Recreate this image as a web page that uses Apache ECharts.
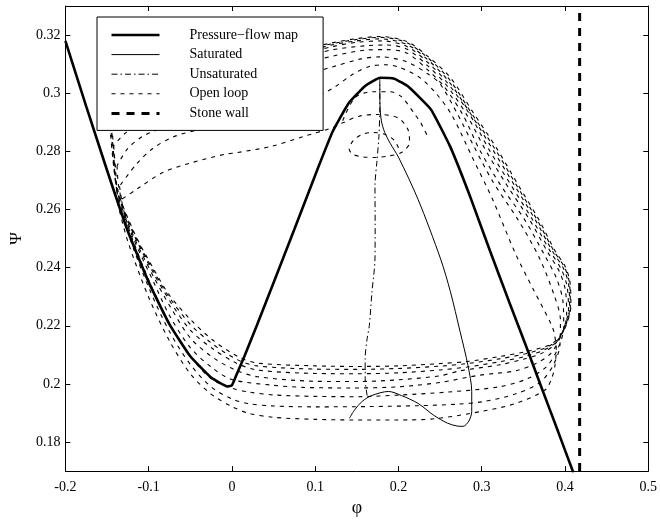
<!DOCTYPE html>
<html><head><meta charset="utf-8">
<script src="https://cdn.jsdelivr.net/npm/echarts@6/dist/echarts.min.js"></script>
<style>html,body{margin:0;padding:0;background:#fff}#c{width:660px;height:522px}</style>
</head><body><div id="c"></div>
<script>
// ---- tick labels ----
const xTicks = [-0.2, -0.1, 0, 0.1, 0.2, 0.3, 0.4, 0.5];
const yTicks = [0.18, 0.2, 0.22, 0.24, 0.26, 0.28, 0.3, 0.32];
const legendNames = ['Pressure\u2212flow map', 'Saturated', 'Unsaturated', 'Open loop', 'Stone wall'];

// ---- series data ----
const pressureFlowMap = [[-0.2,0.318],[-0.175,0.2955],[-0.15,0.2735],[-0.125,0.2525],[-0.1,0.235],[-0.075,0.2205],[-0.05,0.2095],[-0.025,0.2022],[-0.005,0.1991],[0.0,0.1995],[0.006,0.2035],[0.015,0.2095],[0.03,0.2202],[0.05,0.2348],[0.075,0.2532],[0.1,0.2718],[0.121,0.2868],[0.14,0.2965],[0.16,0.3025],[0.178,0.3053],[0.195,0.305],[0.212,0.3022],[0.239,0.2944],[0.262,0.2817],[0.286,0.2645],[0.31,0.2457],[0.333,0.2282],[0.353,0.2132],[0.372,0.1986],[0.39,0.1849],[0.41,0.1695]];

const saturated = [[0.1412,0.1882],[0.147,0.1909],[0.1565,0.194],[0.168,0.196],[0.188,0.1974],[0.2035,0.196],[0.2235,0.1933],[0.2424,0.1892],[0.2588,0.1865],[0.2705,0.1855],[0.2776,0.1854],[0.2845,0.1872],[0.288,0.1905],[0.288,0.1974],[0.2835,0.2063],[0.274,0.218],[0.2624,0.2317],[0.2506,0.243],[0.2235,0.2635],[0.2,0.278],[0.19,0.2828],[0.1835,0.2865],[0.1795,0.2905],[0.1778,0.296],[0.1776,0.305]];

const unsaturated = [[0.1624,0.196],[0.16,0.2019],[0.16,0.2087],[0.1624,0.2156],[0.165,0.22],[0.1682,0.2317],[0.1718,0.243],[0.172,0.255],[0.1718,0.268],[0.174,0.2762],[0.1765,0.285],[0.1776,0.295],[0.1776,0.303]];

const stoneWall = [[0.4176,0.17],[0.4176,0.33]];

const openLoopSpiral = [[0.2,0.2812],[0.195,0.2838],[0.184,0.2858],[0.17,0.2865],[0.156,0.2858],[0.146,0.2838],[0.1408,0.2808],[0.145,0.279],[0.157,0.2781],[0.172,0.2779],[0.188,0.2784],[0.2035,0.2796],[0.2133,0.283],[0.2114,0.2875],[0.1996,0.2915],[0.174,0.2927],[0.1526,0.2921],[0.133,0.2898],[0.1212,0.2882],[0.0859,0.2851],[0.047,0.2817],[0.007,0.2796],[-0.0082,0.279],[-0.0471,0.2762],[-0.0824,0.2728],[-0.1141,0.267],[-0.1376,0.2625]];

const openLoopInner = [[0.133,0.2905],[0.148,0.2985],[0.168,0.3005],[0.19,0.3005],[0.2035,0.2988],[0.219,0.293],[0.227,0.2897],[0.236,0.2845]];

const openLoop1 = [[-0.1376,0.2625],[-0.125,0.249],[-0.1,0.2298],[-0.075,0.2148],[-0.05,0.2035],[-0.025,0.1965],[0.0,0.1922],[0.02,0.1899],[0.05,0.1885],[0.1,0.1878],[0.145,0.1876],[0.2,0.1876],[0.243,0.188],[0.301,0.1906],[0.341,0.1933],[0.376,0.1979],[0.384,0.2019],[0.388,0.2064],[0.3895,0.212],[0.387,0.2175],[0.3835,0.2205],[0.362,0.2325],[0.341,0.2445],[0.313,0.2635],[0.2894,0.2775],[0.264,0.2925],[0.245,0.3],[0.225,0.3055],[0.2,0.309],[0.184,0.3098],[0.165,0.3092],[0.145,0.3065],[0.12,0.3015],[0.09,0.2975],[0.05,0.2935],[0.0,0.2905],[-0.04,0.2875],[-0.07,0.285],[-0.095,0.281],[-0.115,0.2755],[-0.135,0.268]];

const openLoop2 = [[-0.135,0.268],[-0.125,0.2525],[-0.1,0.2332],[-0.075,0.218],[-0.05,0.2067],[-0.025,0.199],[0.0,0.1948],[0.02,0.1932],[0.05,0.1924],[0.1,0.1921],[0.164,0.1922],[0.2235,0.1925],[0.27,0.193],[0.3016,0.1939],[0.34,0.1965],[0.37,0.2005],[0.386,0.2065],[0.394,0.2135],[0.3945,0.222],[0.387,0.2305],[0.369,0.2435],[0.3435,0.2565],[0.3135,0.2695],[0.291,0.2815],[0.271,0.2928],[0.25,0.3032],[0.236,0.3065],[0.21,0.3108],[0.178,0.3125],[0.155,0.3118],[0.12,0.309],[0.08,0.3055],[0.04,0.3015],[0.0,0.2975],[-0.04,0.293],[-0.07,0.2895],[-0.105,0.2855],[-0.125,0.281],[-0.138,0.275]];

const openLoop3 = [[-0.138,0.275],[-0.136,0.268],[-0.125,0.2545],[-0.1,0.2358],[-0.075,0.2208],[-0.05,0.2095],[-0.025,0.2018],[0.0,0.1985],[0.02,0.1972],[0.05,0.1962],[0.1,0.1957],[0.15,0.1956],[0.2035,0.1962],[0.26,0.1972],[0.3212,0.199],[0.355,0.2018],[0.378,0.206],[0.392,0.2125],[0.3985,0.2195],[0.3975,0.2285],[0.3895,0.2365],[0.3745,0.2448],[0.3515,0.2565],[0.3235,0.268],[0.2975,0.2805],[0.2775,0.2925],[0.255,0.3022],[0.236,0.3078],[0.21,0.3138],[0.185,0.315],[0.16,0.3148],[0.12,0.3127],[0.08,0.3098],[0.04,0.3062],[0.0,0.3022],[-0.04,0.2982],[-0.08,0.2942],[-0.11,0.29],[-0.13,0.2858],[-0.142,0.282]];

const openLoop4 = [[-0.142,0.282],[-0.139,0.271],[-0.1365,0.2635],[-0.1176,0.2495],[-0.094,0.235],[-0.075,0.2235],[-0.05,0.2125],[-0.0235,0.2055],[0.0,0.2015],[0.0467,0.1996],[0.0859,0.1988],[0.1447,0.1986],[0.2,0.199],[0.25,0.2005],[0.2976,0.203],[0.3408,0.2045],[0.365,0.207],[0.383,0.2105],[0.3955,0.2168],[0.402,0.2235],[0.4005,0.2322],[0.3935,0.2385],[0.3795,0.2452],[0.357,0.2567],[0.331,0.268],[0.3045,0.2805],[0.2815,0.2928],[0.257,0.303],[0.236,0.3092],[0.21,0.3152],[0.185,0.3166],[0.16,0.3163],[0.12,0.3149],[0.08,0.3118],[0.04,0.308],[0.0,0.304],[-0.04,0.2998],[-0.08,0.2958],[-0.11,0.2925],[-0.13,0.29],[-0.144,0.2885]];

const openLoop5 = [[-0.144,0.2885],[-0.141,0.276],[-0.1375,0.2655],[-0.1176,0.2505],[-0.094,0.2368],[-0.075,0.227],[-0.05,0.2158],[-0.0235,0.2092],[0.004,0.2048],[0.03,0.2025],[0.1,0.2009],[0.15,0.2008],[0.2,0.2014],[0.25,0.2028],[0.2741,0.2045],[0.32,0.2065],[0.35,0.2085],[0.372,0.2105],[0.388,0.2137],[0.3978,0.2187],[0.4042,0.2255],[0.4025,0.2335],[0.396,0.2392],[0.3825,0.2455],[0.3605,0.2567],[0.336,0.268],[0.309,0.2805],[0.285,0.293],[0.259,0.3035],[0.236,0.3104],[0.21,0.3161],[0.18,0.318],[0.15,0.3175],[0.12,0.316],[0.08,0.3128],[0.04,0.309],[0.0,0.305],[-0.04,0.301],[-0.08,0.2975],[-0.11,0.2948],[-0.13,0.2932],[-0.146,0.2925]];

const openLoop6 = [[-0.146,0.2925],[-0.142,0.279],[-0.1378,0.2662],[-0.1176,0.2512],[-0.094,0.238],[-0.075,0.2287],[-0.05,0.2185],[-0.0235,0.2122],[0.005,0.2072],[0.03,0.2048],[0.1,0.2036],[0.15,0.2035],[0.2,0.2038],[0.25,0.2048],[0.2824,0.2058],[0.3212,0.2076],[0.353,0.2095],[0.376,0.2118],[0.3905,0.2146],[0.3995,0.2193],[0.4055,0.2262],[0.4043,0.2343],[0.398,0.2398],[0.3848,0.2457],[0.3638,0.2567],[0.34,0.268],[0.3128,0.2808],[0.2865,0.293],[0.26,0.3042],[0.236,0.3113],[0.21,0.3168],[0.178,0.3187],[0.15,0.318],[0.12,0.3166],[0.08,0.3136],[0.04,0.31],[0.0,0.306],[-0.04,0.3022],[-0.08,0.2988],[-0.11,0.2962],[-0.13,0.2945],[-0.147,0.2955]];

const openLoop7 = [[-0.147,0.2955],[-0.1435,0.2805],[-0.1378,0.2668],[-0.1176,0.2517],[-0.094,0.2388],[-0.075,0.2297],[-0.05,0.2205],[-0.0235,0.2138],[0.006,0.2084],[0.03,0.2062],[0.1,0.2051],[0.15,0.205],[0.2,0.2053],[0.25,0.2061],[0.2824,0.207],[0.3212,0.2086],[0.353,0.2104],[0.378,0.2126],[0.3915,0.2152],[0.4005,0.2198],[0.4064,0.2266],[0.4053,0.2348],[0.3992,0.2402],[0.3865,0.2458],[0.366,0.2567],[0.3425,0.268],[0.3155,0.281],[0.288,0.293],[0.261,0.3048],[0.236,0.312],[0.21,0.3174],[0.178,0.3192],[0.15,0.3185],[0.12,0.317],[0.08,0.3142],[0.04,0.3108],[0.0,0.307],[-0.04,0.3035],[-0.08,0.3],[-0.11,0.2975],[-0.13,0.296],[-0.148,0.298]];

const openLoop8 = [[-0.148,0.298],[-0.146,0.2865],[-0.1376,0.2673],[-0.1176,0.2522],[-0.094,0.2395],[-0.075,0.2305],[-0.05,0.2222],[-0.0235,0.2152],[0.0071,0.2094],[0.03,0.2072],[0.1,0.2062],[0.15,0.206],[0.2,0.2062],[0.25,0.207],[0.2824,0.2077],[0.3212,0.2094],[0.353,0.2111],[0.38,0.2132],[0.3918,0.2156],[0.4012,0.22],[0.4071,0.2269],[0.406,0.235],[0.4,0.2405],[0.388,0.2458],[0.3682,0.2567],[0.3447,0.268],[0.3176,0.2812],[0.2894,0.2935],[0.262,0.3055],[0.236,0.3125],[0.21,0.3178],[0.178,0.3195],[0.15,0.3188],[0.12,0.3173],[0.08,0.3148],[0.04,0.3118],[0.0,0.3082],[-0.04,0.3048],[-0.08,0.3012],[-0.11,0.2985],[-0.13,0.2975],[-0.149,0.3]];

const openLoops = [openLoopSpiral, openLoopInner, openLoop1, openLoop2, openLoop3, openLoop4, openLoop5, openLoop6, openLoop7, openLoop8];

// ---- chart ----
const FONT = 'Liberation Serif';
const chart = echarts.init(document.getElementById('c'), null, {renderer: 'canvas'});

const styles = {
  pressure: {width: 2.6, type: 'solid'},
  saturated: {width: 1, type: 'solid'},
  unsaturated: {width: 1, type: [6, 3, 1.5, 3]},
  openLoop: {width: 1.1, type: [4, 5]},
  stoneWall: {width: 3, type: [8, 7]}
};

function lineSeries(name, data, lineStyle, smooth) {
  return {
    name: name, type: 'line', data: data, xAxisIndex: 0, yAxisIndex: 0,
    symbol: 'none', showSymbol: false, smooth: smooth, animation: false,
    lineStyle: Object.assign({color: '#000'}, lineStyle),
    itemStyle: {color: '#000'}, emphasis: {disabled: true}, silent: true
  };
}

const series = [];
openLoops.forEach(d => series.push(lineSeries(legendNames[3], d, styles.openLoop, 0.3)));
series.push(lineSeries(legendNames[2], unsaturated, styles.unsaturated, 0.3));
series.push(lineSeries(legendNames[1], saturated, styles.saturated, 0.3));
series.push(lineSeries(legendNames[0], pressureFlowMap, styles.pressure, 0.12));
series.push(lineSeries(legendNames[4], stoneWall, styles.stoneWall, false));

const legendStyles = [styles.pressure, styles.saturated, styles.unsaturated, styles.openLoop, styles.stoneWall];

const axisCommon = {
  type: 'value',
  axisLine: {show: true, onZero: false, lineStyle: {color: '#000', width: 1}},
  splitLine: {show: false}
};

const option = {
  animation: false,
  backgroundColor: '#fff',
  grid: {left: 57, right: 8, top: 6, bottom: 49},
  xAxis: [
    Object.assign({}, axisCommon, {
      min: -0.2, max: 0.5, position: 'bottom',
      name: '\u03C6', nameLocation: 'middle', nameGap: 24,
      nameTextStyle: {fontFamily: FONT, fontSize: 18, color: '#000'},
      axisTick: {show: true, inside: true, length: 5, customValues: xTicks, lineStyle: {color: '#000'}},
      axisLabel: {show: true, customValues: xTicks, fontFamily: FONT, fontSize: 14, color: '#000', margin: 9}
    }),
    Object.assign({}, axisCommon, {
      min: -0.2, max: 0.5, position: 'top',
      axisTick: {show: true, inside: true, length: 5, customValues: xTicks, lineStyle: {color: '#000'}},
      axisLabel: {show: false}
    })
  ],
  yAxis: [
    Object.assign({}, axisCommon, {
      min: 0.17, max: 0.33, position: 'left',
      name: '\u03A8', nameLocation: 'middle', nameGap: 36, nameRotate: 90,
      nameTextStyle: {fontFamily: FONT, fontSize: 17, color: '#000'},
      axisTick: {show: true, inside: true, length: 5, customValues: yTicks, lineStyle: {color: '#000'}},
      axisLabel: {show: true, customValues: yTicks, fontFamily: FONT, fontSize: 14, color: '#000', margin: 5}
    }),
    Object.assign({}, axisCommon, {
      min: 0.17, max: 0.33, position: 'right',
      axisTick: {show: true, inside: true, length: 5, customValues: yTicks, lineStyle: {color: '#000'}},
      axisLabel: {show: false}
    })
  ],
  legend: {
    orient: 'vertical', left: 97, top: 17,
    data: legendNames.map((n, i) => ({
      name: n,
      lineStyle: {color: '#000', width: legendStyles[i].width, type: legendStyles[i].type}
    })),
    itemWidth: 48, itemHeight: 14, itemGap: 5.6,
    padding: [11, 25, 10, 13],
    backgroundColor: '#fff', borderColor: '#000', borderWidth: 1, borderRadius: 0,
    selectedMode: false,
    itemStyle: {color: 'rgba(0,0,0,0)', borderColor: 'rgba(0,0,0,0)', borderWidth: 0, opacity: 0},
    textStyle: {fontFamily: FONT, fontSize: 14, color: '#000', padding: [0, 0, 0, 25]}
  },
  series: series
};
chart.setOption(option);
</script>
</body></html>
